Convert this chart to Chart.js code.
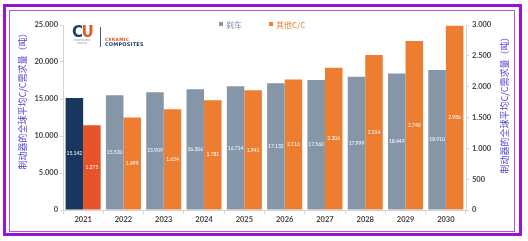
<!DOCTYPE html>
<html><head><meta charset="utf-8">
<script src="https://cdn.jsdelivr.net/npm/chart.js@4/dist/chart.umd.min.js"></script>
<style>
html,body{margin:0;padding:0;background:#fff;}
#wrap{position:relative;width:528px;height:241px;overflow:hidden;background:#fff;}
#c{position:absolute;left:0;top:0;}
.f1{position:absolute;left:3px;top:4px;width:513px;height:226px;border:3px solid #9a10d4;}
.f2{position:absolute;left:9px;top:10px;width:504px;height:220px;border:1px solid #b64fe6;}
#logo{position:absolute;left:72px;top:26px;width:80px;height:24px;}
#logo div{position:absolute;white-space:nowrap;}
</style>
</head><body>
<div id="wrap">
<div class="f1"></div><div class="f2"></div>
<canvas id="c" width="528" height="241"></canvas>
<div id="logo">
  <div style="left:0;top:0;font:900 15px/13px 'DejaVu Sans';letter-spacing:-1.5px;"><span style="color:#1d3c6e">C</span><span style="color:#e2582b">U</span></div>
  <div style="left:-1px;top:13px;width:22px;font:2.6px/3px 'DejaVu Sans';color:#8090a0;text-align:center">COMPOSITES<br>UNITED</div>
  <div style="left:28px;top:1px;width:1px;height:20px;background:#3a5a88"></div>
  <div style="left:33px;top:11px;font:bold 4.4px/5px 'DejaVu Sans';color:#e2582b;letter-spacing:0.3px">CERAMIC</div>
  <div style="left:33px;top:16px;font:bold 5px/5px 'DejaVu Sans';color:#1d3c6e;letter-spacing:0.2px">COMPOSITES</div>
</div>
</div>
<script>
const years = ['2021','2022','2023','2024','2025','2026','2027','2028','2029','2030'];
const brakeValues = [15142,15520,15909,16306,16714,17132,17560,17999,18449,18910];
const otherValues = [1375,1499,1634,1781,1941,2116,2306,2514,2740,2986];
const seriesNames = ['刹车','其他C/C'];
const leftTicks = [0,5000,10000,15000,20000,25000];
const rightTicks = [0,500,1000,1500,2000,2500,3000];
const axisTitle = '制动器的全球平均C/C需求量（吨）';

const GRAY = '#8596a8', ORANGE = '#ed7d31', NAVY = '#17375e', RED = '#e8532b';
const fmt = v => String(v).replace(/\B(?=(\d{3})+(?!\d))/g, '.');

const barLabels = {
  id: 'barLabels',
  afterDatasetsDraw(chart) {
    const ctx = chart.ctx;
    ctx.save();
    ctx.fillStyle = '#ffffff';
    ctx.font = '5px Lato';
    ctx.textAlign = 'center';
    ctx.textBaseline = 'middle';
    chart.data.datasets.forEach((ds, di) => {
      const meta = chart.getDatasetMeta(di);
      meta.data.forEach((el, i) => {
        ctx.fillText(fmt(ds.data[i]), el.x, (el.y + el.base) / 2);
      });
    });
    ctx.restore();
  }
};

const extras = {
  id: 'extras',
  afterDraw(chart) {
    const ctx = chart.ctx;
    ctx.save();
    // axis titles
    ctx.fillStyle = '#5246d6';
    ctx.font = '9px "Noto Sans CJK SC"';
    ctx.textAlign = 'center';
    ctx.textBaseline = 'middle';
    [[23, 99], [505, 103]].forEach(([x, y]) => {
      ctx.save();
      ctx.translate(x, y);
      ctx.rotate(-Math.PI / 2);
      ctx.fillText(axisTitle, 0, 0);
      ctx.restore();
    });
    // legend
    ctx.font = '8px "Noto Sans CJK SC"';
    ctx.textAlign = 'left';
    const items = [[seriesNames[0], GRAY, '#7889a6', 219], [seriesNames[1], ORANGE, ORANGE, 269]];
    items.forEach(([t, c, tc, x]) => {
      ctx.fillStyle = c;
      ctx.fillRect(x, 22, 4, 4);
      ctx.fillStyle = tc;
      ctx.fillText(t, x + 7, 24.5);
    });
    ctx.restore();
  }
};

const tickFont = { family: 'Lato', size: 7.5, weight: 'bold' };
new Chart(document.getElementById('c'), {
  type: 'bar',
  data: {
    labels: years,
    datasets: [
      { label: seriesNames[0], data: brakeValues, yAxisID: 'y',
        backgroundColor: brakeValues.map((v, i) => i === 0 ? NAVY : GRAY),
        categoryPercentage: 0.87, barPercentage: 1.0 },
      { label: seriesNames[1], data: otherValues, yAxisID: 'y1',
        backgroundColor: otherValues.map((v, i) => i === 0 ? RED : ORANGE),
        categoryPercentage: 0.87, barPercentage: 1.0 }
    ]
  },
  options: {
    responsive: false,
    animation: false,
    layout: { padding: { top: 25, left: 0, right: 0, bottom: 0 } },
    plugins: { legend: { display: false }, tooltip: { enabled: false } },
    scales: {
      x: {
        afterFit(s) { s.height = 31; },
        grid: { drawOnChartArea: false, drawTicks: true, tickLength: 4, color: '#d4d4d4' },
        border: { display: true, color: '#d4d4d4' },
        ticks: { color: '#444', font: tickFont, padding: 1 }
      },
      y: {
        position: 'left', min: 0, max: 25000,
        afterFit(s) { s.width = 63; },
        afterBuildTicks(s) { s.ticks = leftTicks.map(v => ({ value: v })); },
        grid: { drawOnChartArea: false, tickLength: 3, color: '#d4d4d4' },
        border: { display: true, color: '#d4d4d4' },
        ticks: { color: '#444', font: tickFont, padding: 2, callback: v => fmt(v) }
      },
      y1: {
        position: 'right', min: 0, max: 3000,
        afterFit(s) { s.width = 62; },
        afterBuildTicks(s) { s.ticks = rightTicks.map(v => ({ value: v })); },
        grid: { drawOnChartArea: false, tickLength: 3, color: '#d4d4d4' },
        border: { display: true, color: '#d4d4d4' },
        ticks: { color: '#444', font: tickFont, padding: 3, callback: v => fmt(v) }
      }
    }
  },
  plugins: [barLabels, extras]
});
</script>
</body></html>
